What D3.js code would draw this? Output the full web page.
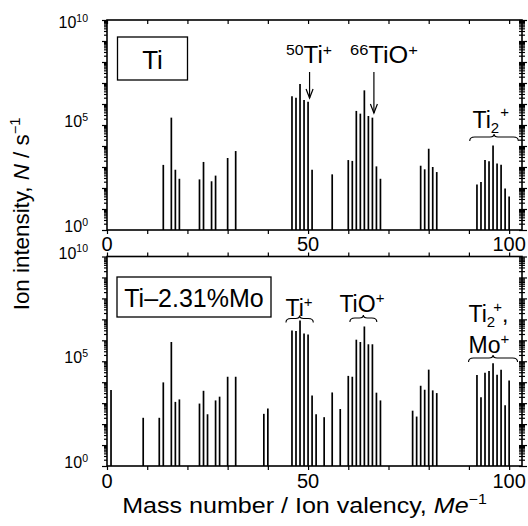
<!DOCTYPE html>
<html><head><meta charset="utf-8">
<script src="https://cdn.jsdelivr.net/npm/d3@7"></script>
<style>body{margin:0;background:#fff}svg{display:block}text{font-family:"Liberation Sans",Arial,Helvetica,sans-serif;fill:#000}</style>
</head><body><div id="c"></div>
<script>
// ---- data ----
const topMasses = [14,16,17,18,23,24,26,27,30,32,46,47,48,49,50,51,56,60,61,62,63,64,65,66,67,68,78,79,80,81,82,92,93,94,95,96,97,98,99,100];
const topIntensity = [1.26e3,2.24e5,741,275,257,1.74e3,209,389,2.69e3,5.75e3,2.34e6,2.0e6,8.9e6,1.55e6,1.29e6,741,447,2.14e3,1.95e3,4.68e5,3.47e5,4.47e6,2.69e5,2.24e5,1.07e3,275,1.15e3,776,7.41e3,1.0e3,575,145,195,2.14e3,1.86e3,1.07e4,1.48e3,1.29e3,95,39];
const bottomMasses = [1,9,13,14,16,17,18,23,24,25,27,28,30,32,39,40,46,47,48,49,50,51,52,54,56,58,60,61,62,63,64,65,66,67,68,76,77,78,79,80,81,82,92,93,94,95,96,97,98,99,100];
const bottomIntensity = [4.27e3,200,200,9.8e3,8.3e5,1.15e3,1.51e3,955,3.89e3,295,1.35e3,2.04e3,1.82e4,1.82e4,309,550,2.95e6,2.75e6,8.9e6,2.14e6,1.91e6,2.29e3,295,214,3.24e3,525,2.0e4,1.82e4,1.07e6,8.3e5,4.57e6,6.46e5,6.46e5,3.16e3,1.35e3,437,229,6.76e3,4.37e3,3.98e4,4.07e3,3.02e3,2.19e4,1.91e3,2.82e4,3.39e4,8.13e4,2.24e4,3.98e4,794,1.2e4];
const xTickLabels = [0,50,100];
const yTickLabelExps = [0,5,10];
const panelNames = ["Ti","Ti\u20132.31%Mo"];

const W=528,H=526;
const svg=d3.select("#c").append("svg").attr("width",W).attr("height",H);
const x=d3.scaleLinear().domain([0,103.2]).range([107,522]);

const panels=[
 {top:20,bottom:230,masses:topMasses,vals:topIntensity,name:panelNames[0]},
 {top:256.5,bottom:466,masses:bottomMasses,vals:bottomIntensity,name:panelNames[1]}
];

const majors=d3.range(0,11).map(e=>Math.pow(10,e));
const minors=[];
for(let e=0;e<10;e++)for(let k=2;k<=9;k++)minors.push(k*Math.pow(10,e));

panels.forEach((p,pi)=>{
  const y=d3.scaleLog().domain([1,1e10]).range([p.bottom,p.top]);
  p.y=y;
  const g=svg.append("g");
  // bars
  g.selectAll("line.bar").data(p.masses.map((m,i)=>({m,v:p.vals[i]}))).join("line")
    .attr("x1",d=>x(d.m)).attr("x2",d=>x(d.m)).attr("y1",y(1)).attr("y2",d=>y(d.v))
    .attr("stroke","#000").attr("stroke-width",1.7);
  // frame
  g.append("rect").attr("x",x(0)).attr("y",p.top).attr("width",x(103.2)-x(0)).attr("height",p.bottom-p.top)
    .attr("fill","none").attr("stroke","#000").attr("stroke-width",1.6);
  // left axis ticks
  const la=g.append("g").attr("transform",`translate(${x(0)},0)`);
  la.call(d3.axisLeft(y).tickValues(minors).tickSize(3).tickFormat(""));
  la.append("g").call(d3.axisLeft(y).tickValues(majors).tickSize(5).tickFormat(""));
  la.selectAll(".domain").remove();
  la.selectAll("line").attr("stroke","#000").attr("stroke-width",1.2);
  const ra=g.append("g").attr("transform",`translate(${x(103.2)},0)`);
  ra.call(d3.axisRight(y).tickValues(minors).tickSize(3).tickFormat(""));
  ra.append("g").call(d3.axisRight(y).tickValues(majors).tickSize(5).tickFormat(""));
  ra.selectAll(".domain").remove();
  ra.selectAll("line").attr("stroke","#000").attr("stroke-width",1.2);
  ra.selectAll("g g.tick line").attr("x1",-3);
  // x ticks
  const xt=d3.range(0,101,10);
  const bt=g.append("g").attr("transform",`translate(0,${p.bottom})`);
  bt.call(d3.axisBottom(x).tickValues(xt).tickSize(4).tickFormat(""));
  bt.selectAll(".domain").remove();
  const tt=g.append("g").attr("transform",`translate(0,${p.top})`);
  if(pi===0){ tt.call(d3.axisBottom(x).tickValues(xt).tickSize(4).tickFormat("")); }
  else { tt.call(d3.axisTop(x).tickValues(xt).tickSize(4).tickFormat("")); }
  tt.selectAll(".domain").remove();
  g.selectAll(".tick line").attr("stroke","#000").attr("stroke-width",1.2);
  // x labels
  const lb = pi===0?251:488;
  g.selectAll("text.xl").data(xTickLabels).join("text").attr("class","xl")
    .attr("x",d=>x(d)).attr("y",lb).attr("text-anchor","middle").attr("font-size",20).text(d=>d);
  // y labels
  yTickLabelExps.forEach(e=>{
    let by = y(Math.pow(10,e))+2;
    if(pi===0&&e===10) by = y(1e10)+8;
    const t=g.append("text").attr("x",88).attr("y",by).attr("text-anchor","end").attr("font-size",16);
    t.append("tspan").text("10");
    t.append("tspan").attr("font-size",10.5).attr("dy",-6.5).text(e);
  });
  // panel name box
  if(pi===0){
    g.append("rect").attr("x",117.5).attr("y",37).attr("width",70).attr("height",43).attr("fill","#fff").attr("stroke","#000").attr("stroke-width",1.3);
    g.append("text").attr("x",152.5).attr("y",69).attr("text-anchor","middle").attr("font-size",26).text(p.name);
  } else {
    g.append("rect").attr("x",117).attr("y",277).attr("width",154).attr("height",40).attr("fill","#fff").attr("stroke","#000").attr("stroke-width",1.3);
    g.append("text").attr("x",194).attr("y",306.5).attr("text-anchor","middle").attr("font-size",25).text(p.name);
  }
});

function brace(x1,x2,yy){
  const xm=(x1+x2)/2;
  return `M${x1},${yy+4} Q${x1},${yy} ${x1+5},${yy} L${xm-4},${yy} Q${xm},${yy} ${xm},${yy-3} Q${xm},${yy} ${xm+4},${yy} L${x2-5},${yy} Q${x2},${yy} ${x2},${yy+4}`;
}
function arrow(xx,y1,y2){
  svg.append("line").attr("x1",xx).attr("x2",xx).attr("y1",y1).attr("y2",y2).attr("stroke","#000").attr("stroke-width",1.2);
  svg.append("path").attr("d",`M${xx-3.5},${y2-9} L${xx},${y2} L${xx+3.5},${y2-9}`).attr("fill","none").attr("stroke","#000").attr("stroke-width",1.2);
}
function stretched(cx,cy,sx,anchor){
  return svg.append("text").attr("transform",`translate(${cx},${cy}) scale(${sx},1)`).attr("text-anchor",anchor);
}
const fs=23, ss=15;
// top annotations
let t=stretched(309,63,1.05,"middle").attr("font-size",fs);
t.append("tspan").attr("font-size",ss).attr("dy",-8).text("50");
t.append("tspan").attr("dy",8).text("Ti");
t.append("tspan").attr("font-size",ss).attr("dy",-8).text("+");
arrow(x(50)+1.5,72,98);
t=stretched(384,63,1.1,"middle").attr("font-size",fs);
t.append("tspan").attr("font-size",ss).attr("dy",-8).text("66");
t.append("tspan").attr("dy",8).text("TiO");
t.append("tspan").attr("font-size",ss).attr("dy",-8).text("+");
arrow(x(66)+1.5,72,113);
t=svg.append("text").attr("x",x(90.9)).attr("y",128).attr("font-size",fs);
t.append("tspan").text("Ti");
t.append("tspan").attr("font-size",ss).attr("dy",5).text("2");
t.append("tspan").attr("font-size",ss).attr("dy",-16).attr("dx",1).text("+");
svg.append("path").attr("d",brace(x(90.2),x(102.3),137)).attr("fill","none").attr("stroke","#000").attr("stroke-width",1.1);
// bottom annotations
t=svg.append("text").attr("x",x(44.4)).attr("y",315.5).attr("font-size",fs);
t.append("tspan").text("Ti");
t.append("tspan").attr("font-size",ss).attr("dy",-9).text("+");
svg.append("path").attr("d",brace(x(44.5),x(51.3),318.5)).attr("fill","none").attr("stroke","#000").attr("stroke-width",1.1);
t=svg.append("text").attr("x",x(57.8)).attr("y",311.5).attr("font-size",fs);
t.append("tspan").text("TiO");
t.append("tspan").attr("font-size",ss).attr("dy",-9).text("+");
svg.append("path").attr("d",brace(x(60.4),x(67.1),318)).attr("fill","none").attr("stroke","#000").attr("stroke-width",1.1);
t=svg.append("text").attr("x",x(89.9)).attr("y",321.5).attr("font-size",fs);
t.append("tspan").text("Ti");
t.append("tspan").attr("font-size",ss).attr("dy",5).text("2");
t.append("tspan").attr("font-size",ss).attr("dy",-15).attr("dx",-2).text("+");
t.append("tspan").attr("dy",10).text(",");
t=svg.append("text").attr("x",x(89.9)).attr("y",353).attr("font-size",fs);
t.append("tspan").text("Mo");
t.append("tspan").attr("font-size",ss).attr("dy",-9).text("+");
svg.append("path").attr("d",brace(x(89.9),x(102.1),358)).attr("fill","none").attr("stroke","#000").attr("stroke-width",1.1);

// axis titles
t=stretched(304.5,513,1.14,"middle").attr("font-size",22);
t.append("tspan").text("Mass number / Ion valency, ");
t.append("tspan").attr("font-style","italic").text("Me");
t.append("tspan").attr("font-size",14).attr("dy",-9).text("\u22121");
t=svg.append("text").attr("transform","translate(29,214) rotate(-90) scale(1.04,1)").attr("text-anchor","middle").attr("font-size",21.5);
t.append("tspan").text("Ion intensity, ");
t.append("tspan").attr("font-style","italic").text("N");
t.append("tspan").text(" / s");
t.append("tspan").attr("font-size",14).attr("dy",-9).text("\u22121");
</script></body></html>
